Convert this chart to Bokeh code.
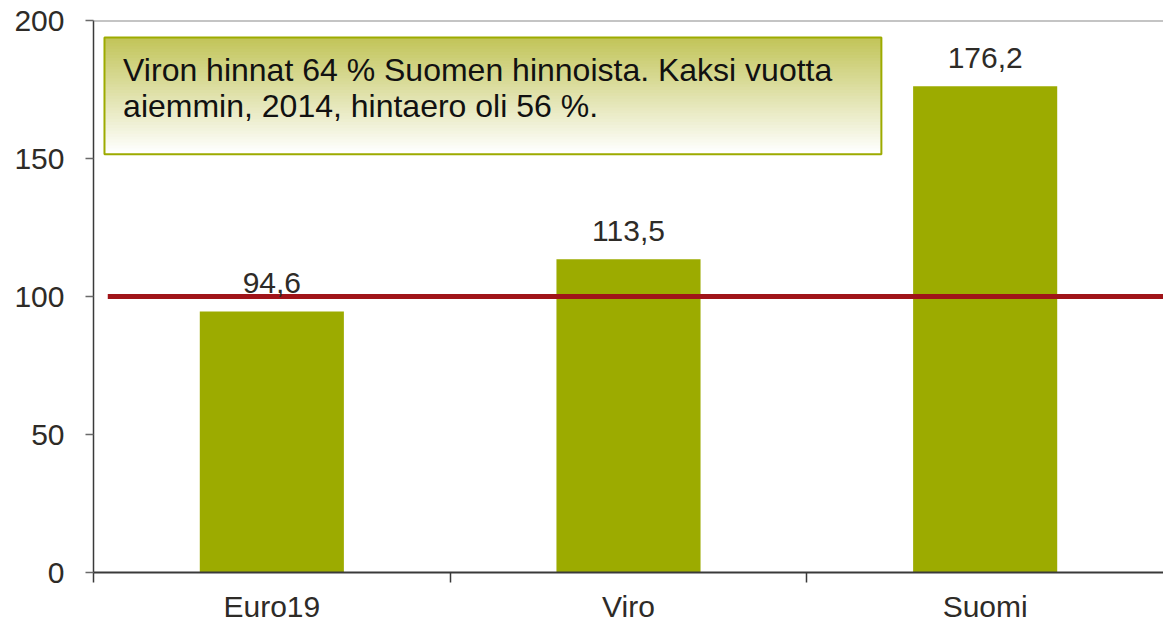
from bokeh.plotting import figure
from bokeh.models import ColumnDataSource, Range1d, FixedTicker, LabelSet, Label, BoxAnnotation, Span
from bokeh.core.properties import value
from bokeh.embed import file_html
from bokeh.resources import INLINE

# ---- data ----
categories = ["Euro19", "Viro", "Suomi"]
values = [94.6, 113.5, 176.2]
reference_level = [100]
y_ticks = [0, 50, 100, 150, 200]
note_lines = [
    "Viron hinnat 64 % Suomen hinnoista. Kaksi vuotta",
    "aiemmin, 2014, hintaero oli 56 %.",
]

FONT = "Liberation Sans"
BAR_COLOR = "#9cab00"
TEXT_COLOR = "#2e2b27"

x_pos = [i + 0.5 for i in range(len(categories))]
bar_labels = [f"{v:.1f}".replace(".", ",") for v in values]
src = ColumnDataSource(dict(x=x_pos, top=values, label=bar_labels))

p = figure(
    width=1163, height=625,
    x_range=Range1d(0, len(categories)), y_range=Range1d(0, 200),
    output_backend="svg", toolbar_location=None,
    min_border_left=93, min_border_right=0, min_border_top=20, min_border_bottom=52,
)
p.outline_line_color = None
p.xgrid.visible = False
p.ygrid.visible = False
p.background_fill_color = "white"
p.border_fill_color = "white"

# bars
p.vbar(x="x", top="top", bottom=0, width=0.404, source=src,
       fill_color=BAR_COLOR, line_color=None)

# reference line at 100
p.segment(x0=[0.04], x1=[len(categories)], y0=reference_level, y1=reference_level,
          line_color="#a01419", line_width=5)

# top border line at 200
p.add_layout(Span(location=200, dimension="width", line_color="#8a8a8a", line_width=2))

# value labels
p.add_layout(LabelSet(x="x", y="top", text="label", source=src,
                      text_align="center", text_baseline="alphabetic", y_offset=18,
                      text_font=value(FONT), text_font_size=value("30px"),
                      text_color=TEXT_COLOR))

# note box with vertical gradient
bx0, bx1 = 0.0308, 2.209
by_top, by_bot = 193.85, 151.56
N = 40
c_top = (194, 197, 90)
c_bot = (255, 255, 255)
h = (by_top - by_bot) / N
for i in range(N):
    t = i / (N - 1)
    r = int(round(c_top[0] + (c_bot[0] - c_top[0]) * t))
    g = int(round(c_top[1] + (c_bot[1] - c_top[1]) * t))
    b = int(round(c_top[2] + (c_bot[2] - c_top[2]) * t))
    bottom = max(by_bot, by_top - (i + 2) * h)
    p.add_layout(BoxAnnotation(left=bx0, right=bx1, top=by_top - i * h, bottom=bottom,
                               fill_color=f"#{r:02x}{g:02x}{b:02x}", fill_alpha=1.0,
                               line_color=None, line_alpha=0))
p.add_layout(BoxAnnotation(left=bx0, right=bx1, top=by_top, bottom=by_bot,
                           fill_color=None, fill_alpha=0,
                           line_color="#9dab00", line_alpha=1.0, line_width=2))

line_y = [182.1, 169.2]
for txt, yy in zip(note_lines, line_y):
    p.add_layout(Label(x=0.083, y=yy, text=txt, text_baseline="alphabetic",
                       text_font=FONT, text_font_size="32px", text_color="#111111"))

# y axis
p.yaxis.ticker = FixedTicker(ticks=y_ticks)
p.yaxis.major_tick_out = 8
p.yaxis.major_tick_in = 0
p.yaxis.minor_tick_out = 0
p.yaxis.minor_tick_in = 0
p.yaxis.axis_line_color = "#3a3a3a"
p.yaxis.axis_line_width = 1.5
p.yaxis.major_tick_line_color = "#6a6a6a"
p.yaxis.major_tick_line_width = 1.5
p.yaxis.major_label_text_font = FONT
p.yaxis.major_label_text_font_size = "30px"
p.yaxis.major_label_text_color = TEXT_COLOR
p.yaxis.major_label_standoff = 21

# x axis: labels at centers, tick marks at category boundaries
p.xaxis.ticker = FixedTicker(ticks=x_pos, minor_ticks=list(range(len(categories))))
p.xaxis.major_label_overrides = {x: c for x, c in zip(x_pos, categories)}
p.xaxis.major_tick_out = 0
p.xaxis.major_tick_in = 0
p.xaxis.minor_tick_out = 10
p.xaxis.minor_tick_in = 0
p.xaxis.minor_tick_line_color = "#3a3a3a"
p.xaxis.minor_tick_line_width = 1.5
p.xaxis.axis_line_color = "#3a3a3a"
p.xaxis.axis_line_width = 2
p.xaxis.major_label_text_font = FONT
p.xaxis.major_label_text_font_size = "30px"
p.xaxis.major_label_text_color = TEXT_COLOR
p.xaxis.major_label_standoff = 7

open("out.html", "w").write(file_html(p, INLINE))
